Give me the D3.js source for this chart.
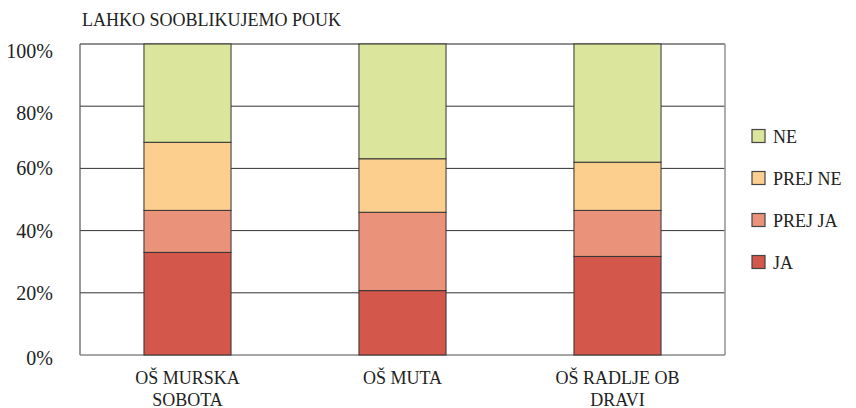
<!DOCTYPE html>
<html>
<head>
<meta charset="utf-8">
<script src="https://cdn.jsdelivr.net/npm/d3@7"></script>
<style>
body { margin: 0; background: #fff; }
</style>
</head>
<body>
<svg width="856" height="408"></svg>
<script>
// data
var schools = [["OŠ MURSKA", "SOBOTA"], ["OŠ MUTA"], ["OŠ RADLJE OB", "DRAVI"]];
var ja = [33.0, 20.7, 31.7];
var prejJa = [13.5, 25.2, 14.8];
var prejNe = [21.9, 17.2, 15.5];
var ne = [31.6, 36.9, 38.0];
var seriesNames = ["JA", "PREJ JA", "PREJ NE", "NE"];
var seriesColors = ["#d3574a", "#ea937a", "#fccf8e", "#dbe59b"];
var yTicks = [0, 20, 40, 60, 80, 100];

var FONT = "'Liberation Serif'";

var svg = d3.select("svg"),
    plotL = 80, plotR = 725, plotT = 44, plotB = 355;

var x = d3.scaleBand().domain(d3.range(schools.length)).range([plotL, plotR])
    .paddingInner(0.595).paddingOuter(0.2975);
var y = d3.scaleLinear().domain([0, 100]).range([plotB, plotT]);

var rows = schools.map(function(s, i){
    return {i: i, JA: ja[i], "PREJ JA": prejJa[i], "PREJ NE": prejNe[i], NE: ne[i]};
});
var stack = d3.stack().keys(seriesNames)(rows);

// grid
svg.append("g").selectAll("line")
  .data(yTicks.filter(function(d){ return d > 0 && d < 100; }))
  .enter().append("line")
  .attr("x1", plotL).attr("x2", plotR)
  .attr("y1", function(d){ return y(d); }).attr("y2", function(d){ return y(d); })
  .attr("stroke", "#333").attr("stroke-width", 1);

// frame
svg.append("line").attr("x1", plotL).attr("x2", plotR).attr("y1", plotT).attr("y2", plotT)
  .attr("stroke", "#222").attr("stroke-width", 1.2);
svg.append("line").attr("x1", plotL).attr("x2", plotL).attr("y1", plotT).attr("y2", plotB)
  .attr("stroke", "#555").attr("stroke-width", 1.2);
svg.append("line").attr("x1", plotR).attr("x2", plotR).attr("y1", plotT).attr("y2", plotB)
  .attr("stroke", "#999").attr("stroke-width", 1.6);
svg.append("line").attr("x1", plotL).attr("x2", plotR).attr("y1", plotB).attr("y2", plotB)
  .attr("stroke", "#888").attr("stroke-width", 1.6);

// bars
svg.append("g").selectAll("g")
  .data(stack).enter().append("g")
  .attr("fill", function(d, k){ return seriesColors[k]; })
  .selectAll("rect")
  .data(function(d){ return d; })
  .enter().append("rect")
  .attr("x", function(d){ return x(d.data.i); })
  .attr("width", x.bandwidth())
  .attr("y", function(d){ return y(d[1]); })
  .attr("height", function(d){ return y(d[0]) - y(d[1]); })
  .attr("stroke", "#333").attr("stroke-width", 1);

// y axis labels
var yAxis = svg.append("g")
  .attr("transform", "translate(" + (plotL - 24) + ",0)")
  .call(d3.axisLeft(y).tickValues(yTicks).tickSize(0).tickFormat(function(d){ return d + "%"; }));
yAxis.select(".domain").remove();
yAxis.selectAll("text")
  .style("font-family", FONT)
  .style("font-size", "20px")
  .attr("fill", "#222")
  .attr("dy", function(d){ return d >= 80 ? "0.66em" : d == 0 ? "0.45em" : "0.32em"; });

// x labels
svg.append("g").selectAll("text")
  .data(schools).enter().append("text")
  .attr("x", function(d, i){ return x(i) + x.bandwidth() / 2; })
  .attr("y", 384)
  .attr("text-anchor", "middle")
  .attr("fill", "#222")
  .style("font-family", FONT)
  .style("font-size", "18px")
  .selectAll("tspan")
  .data(function(d){ return d; })
  .enter().append("tspan")
  .attr("x", function(){ return d3.select(this.parentNode).attr("x"); })
  .attr("dy", function(d, j){ return j ? 21.5 : 0; })
  .text(function(d){ return d; });

// title
svg.append("text").attr("x", 82).attr("y", 26)
  .attr("fill", "#222")
  .style("font-family", FONT)
  .style("font-size", "18px")
  .text("LAHKO SOOBLIKUJEMO POUK");

// legend
var legendOrder = [3, 2, 1, 0];
var lg = svg.append("g").selectAll("g")
  .data(legendOrder).enter().append("g")
  .attr("transform", function(d, i){ return "translate(752," + (136 + i * 42) + ")"; });
lg.append("rect").attr("x", 0).attr("y", -6.5).attr("width", 13).attr("height", 13)
  .attr("fill", function(k){ return seriesColors[k]; })
  .attr("stroke", "#444").attr("stroke-width", 1.2);
lg.append("text").attr("x", 21).attr("y", 7)
  .attr("fill", "#222")
  .style("font-family", FONT)
  .style("font-size", "18px")
  .text(function(k){ return seriesNames[k]; });
</script>
</body>
</html>
